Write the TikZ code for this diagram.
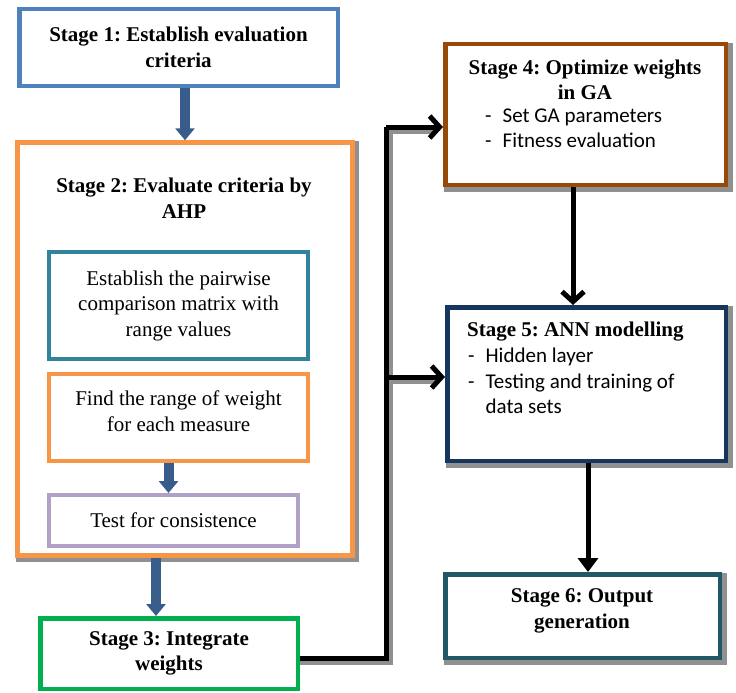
\documentclass[tikz,border=0pt]{standalone}
\usepackage{fontspec}
\setmainfont{Liberation Serif}
\newfontfamily\calfont{Carlito}
\usetikzlibrary{arrows.meta}
\definecolor{cblue}{HTML}{4F81BD}
\definecolor{carrow}{HTML}{385D8A}
\definecolor{corange}{HTML}{F79646}
\definecolor{cteal}{HTML}{31849B}
\definecolor{cpurple}{HTML}{B2A1C7}
\definecolor{cgreen}{HTML}{00B050}
\definecolor{cbrown}{HTML}{984807}
\definecolor{cnavy}{HTML}{17365D}
\definecolor{cdteal}{HTML}{215868}
\definecolor{cshadow}{HTML}{909090}
\frenchspacing
\begin{document}
\begin{tikzpicture}[x=1pt,y=-1pt,
  box/.style={draw=#1, line width=4.5pt, fill=white, rectangle, inner sep=0pt,
    font=\fontsize{21}{25.5}\selectfont, align=center},
  ibox/.style={box=#1, line width=4pt},
  btxt/.style={font=\fontsize{21}{25.5}\selectfont\bfseries, align=center, inner sep=0pt},
  ntxt/.style={font=\fontsize{21}{25.5}\selectfont, align=center, inner sep=0pt},
  ctxt/.style={font=\fontsize{21}{25.5}\selectfont\calfont, align=left, inner sep=0pt},
  barrow/.style={draw=carrow, line width=10pt, -{Triangle[width=19pt,length=12pt]}},
  karrow/.style={draw=black, line width=5pt, -{Straight Barb[length=10pt,width=22pt]}},
  kfarrow/.style={draw=black, line width=5pt, -{Triangle[width=20pt,length=14pt]}},
  kline/.style={draw=black, line width=5pt},
  kshadow/.style={draw=cshadow, line width=5pt},
  bshadow/.style={draw=cshadow, line width=4.5pt}
]
\useasboundingbox (0,0) rectangle (736,693);

% Stage 1
\node[box=cblue, minimum width=318.5pt, minimum height=76.5pt] (s1) at (178.5,47.5)
  {\bfseries Stage 1: Establish evaluation\\\bfseries criteria};

% Stage 2
\node[box=corange, minimum width=335pt, minimum height=413pt] (s2) at (185,349) {};
\draw[bshadow] ([shift={(2.25,1)}]s2.north east) -- ([shift={(2.25,2.25)}]s2.south east)
  -- ([shift={(1,2.25)}]s2.south west);
\node[btxt] (t2) at (184,198) {Stage 2: Evaluate criteria by\\AHP};
\node[ibox=cteal, minimum width=259pt, minimum height=107pt] (i1) at (178.5,305.5)
  {Establish the pairwise\\comparison matrix with\\range values};
\node[ibox=corange, minimum width=259pt, minimum height=87pt] (i2) at (178.5,417.5) {};
\node[ntxt] (ti2) at (178.5,411) {Find the range of weight\\for each measure};
\node[ibox=cpurple, minimum width=249pt, minimum height=51pt] (i3) at (173.5,520.5)
  {Test for consistence};

% Stage 3
\node[box=cgreen, minimum width=257.5pt, minimum height=70.5pt] (s3) at (169,653.5)
  {\bfseries Stage 3: Integrate\\\bfseries weights};

% Stage 4
\node[box=cbrown, minimum width=280.5pt, minimum height=140.5pt] (s4) at (585.5,114.5) {};
\draw[bshadow] ([shift={(2.25,1)}]s4.north east) -- ([shift={(2.25,2.25)}]s4.south east)
  -- ([shift={(1,2.25)}]s4.south west);
\node[btxt] (t4) at (585,80) {Stage 4: Optimize weights\\in GA};
\node[ctxt, anchor=west] (b4) at (485,130)
  {\begin{tabular}{@{}l@{\hspace{11pt}}l@{}}-&Set GA parameters\\-&Fitness evaluation\end{tabular}};

% Stage 5
\node[box=cnavy, minimum width=278.5pt, minimum height=153.5pt] (s5) at (586.5,384) {};
\draw[bshadow] ([shift={(2.25,1)}]s5.north east) -- ([shift={(2.25,2.25)}]s5.south east)
  -- ([shift={(1,2.25)}]s5.south west);
\node[btxt, anchor=west] (t5) at (467,332) {Stage 5: ANN modelling};
\node[ctxt, anchor=west] (b5) at (468,383)
  {\begin{tabular}{@{}l@{\hspace{11pt}}l@{}}-&Hidden layer\\-&Testing and training of\\&data sets\end{tabular}};

% Stage 6
\node[box=cdteal, minimum width=274.5pt, minimum height=83.5pt] (s6) at (582.5,616) {};
\draw[bshadow] ([shift={(2.25,1)}]s6.north east) -- ([shift={(2.25,2.25)}]s6.south east)
  -- ([shift={(1,2.25)}]s6.south west);
\node[btxt] (t6) at (582,611) {Stage 6: Output\\generation};

% connector coordinates
\coordinate (j1) at (386,658);
\coordinate (j2) at (386,127);
\coordinate (j3) at (386,377);
\coordinate (k1) at (390,662);
\coordinate (k2) at (390,131);
\coordinate (k3) at (390,381);

% connector shadows
\draw[kshadow] ([yshift=-4pt]s3.east |- j1) -- (k1) -- (k2) -- ([xshift=-8pt]s4.west |- k2);
\draw[kshadow] (k3) -- ([xshift=-8pt]s5.west |- k3);

% blue arrows
\draw[barrow] (s2.north |- s1.south) -- (s2.north);
\draw[barrow] ([xshift=-10pt]i2.south) -- ([xshift=-10pt]i2.south |- i3.north);
\draw[barrow] ([xshift=-13pt]s3.north |- s2.south) -- ([xshift=-13pt]s3.north);

% connectors
\draw[kline] (s3.east |- j1) -- (j1) -- (j2);
\draw[karrow] (j2) -- (s4.west |- j2);
\draw[karrow] (j3) -- (s5.west |- j3);
\draw[karrow] ([xshift=-12.5pt]s4.south) -- ([xshift=-12.5pt]s4.south |- s5.north);
\draw[kfarrow] ([xshift=5.5pt]s6.north |- s5.south) -- ([xshift=5.5pt]s6.north);
\end{tikzpicture}
\end{document}
